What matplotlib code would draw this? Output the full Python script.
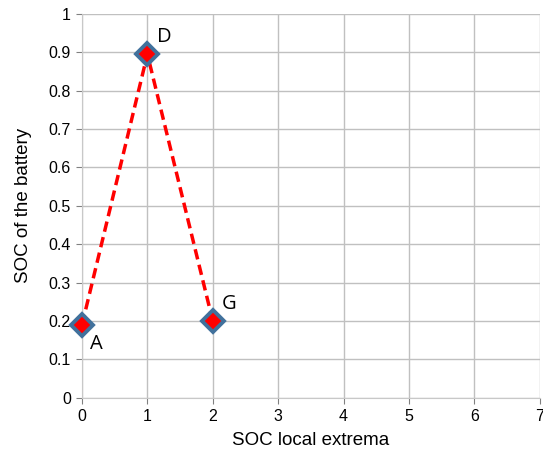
import matplotlib.pyplot as plt

extrema = [0, 1, 2]
soc = [0.19, 0.895, 0.2]
labels = ["A", "D", "G"]
label_offsets = [(0.13, -0.05), (0.14, 0.045), (0.13, 0.045)]

xticks = list(range(0, 8))
yticks = [0, 0.1, 0.2, 0.3, 0.4, 0.5, 0.6, 0.7, 0.8, 0.9, 1]
ytick_labels = ["0", "0.1", "0.2", "0.3", "0.4", "0.5", "0.6", "0.7", "0.8", "0.9", "1"]

plt.rcParams['font.family'] = ['Liberation Sans', 'DejaVu Sans']

fig = plt.figure(figsize=(5.43, 4.5), dpi=100)
ax = fig.add_axes([0.151, 0.116, 0.843, 0.853])

ax.plot(extrema, soc, color="#ff0000", linestyle=(0, (3, 1.6)), linewidth=2.5, zorder=2)
ax.plot(extrema, soc, linestyle="none", marker="D", markersize=11, clip_on=False,
        markerfacecolor="#ff0000", markeredgecolor="#41719c", markeredgewidth=2.8, zorder=3)

for x, y, lab, (dx, dy) in zip(extrema, soc, labels, label_offsets):
    ax.text(x + dx, y + dy, lab, fontsize=14.5, family=['Open Sans', 'DejaVu Sans'],
            ha="left", va="center", zorder=4)

ax.set_xlim(0, 7)
ax.set_ylim(0, 1)
ax.set_xticks(xticks)
ax.set_yticks(yticks)
ax.set_yticklabels(ytick_labels)
ax.tick_params(axis="both", labelsize=11.5, length=4, color="#808080", pad=4)
ax.grid(True, color="#c0c0c0", linewidth=1)
for side in ["top", "right"]:
    ax.spines[side].set_visible(False)
for side in ["left", "bottom"]:
    ax.spines[side].set_color("#c8c8c8")

ax.set_xlabel("SOC local extrema", fontsize=13.5, labelpad=6)
ax.set_ylabel("SOC of the battery", fontsize=13.5, labelpad=12)

fig.savefig("out.png", dpi=100)
